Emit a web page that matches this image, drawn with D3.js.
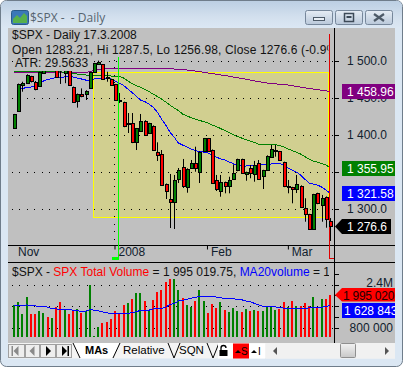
<!DOCTYPE html>
<html><head><meta charset="utf-8">
<script src="https://cdn.jsdelivr.net/npm/d3@7"></script>
<style>html,body{margin:0;padding:0;background:#fff}svg{display:block}text{font-family:"Liberation Sans",Arial,sans-serif;white-space:pre}</style>
</head><body><div id="chart"></div>
<script>
const openP=[1409.1,1432.8,1467.2,1470.3,1479.3,1471.2,1465.3,1484.2,1496,1490,1496,1496,1483.8,1495,1464.9,1445,1455.4,1455.4,1463.1,1484.7,1496,1495.5,1478.8,1475.3,1468.5,1447.7,1444.2,1413.9,1415.8,1389.6,1405.8,1419.3,1402.3,1412.2,1376.6,1373.9,1333.8,1313.5,1309.9,1340.1,1356.3,1330.1,1355,1361.7,1350.4,1377.4,1395.5,1379.7,1339.2,1323.4,1336.1,1331.5,1340.1,1351.8,1367.2,1346.9,1355,1347.7,1361.7,1343.6,1352.3,1370.7,1378.8,1378,1363.1,1330.7,1329.3,1326.6,1331.5,1300.9,1292.8,1273,1321.2,1304.5,1316.2,1283.21];
const highP=[1428.5,1469.5,1472,1482,1480,1473,1485.5,1493,1498,1500,1497,1498,1492,1497,1465.5,1456,1463,1460.5,1485.5,1497.5,1500.5,1496,1485.5,1476,1469,1456.8,1445,1429.7,1429.7,1409.5,1428.4,1420,1416.5,1413,1390.1,1379.7,1334.5,1347.3,1346,1355.4,1367.6,1355,1366.2,1384.2,1378,1396,1396,1380.5,1346,1346,1337,1343.6,1360.4,1368,1368,1350.5,1359.5,1365,1366.2,1353,1372.5,1386.5,1386.5,1378.5,1364,1339.2,1330,1346,1332,1314.5,1293.5,1320.5,1322,1319,1317,1287.5];
const lowP=[1408.5,1432,1458.5,1469.5,1471,1460.4,1465,1483.5,1488,1488,1477.5,1469,1470,1467.5,1444.5,1437,1451,1447.3,1462.5,1484,1495,1475,1472,1467,1446,1443.2,1410.5,1402.7,1389,1379.7,1405,1400.5,1402,1379,1364.9,1331.5,1313.5,1274.3,1273,1335.1,1328.4,1322,1354.5,1350.4,1335.1,1377,1377.8,1335,1324.3,1316.6,1321.2,1321.2,1339.5,1351,1347.5,1338.2,1341.5,1336.9,1340,1327,1352,1370,1370.7,1365.5,1329.5,1321.2,1307.7,1321.6,1302.5,1282.8,1272,1272.5,1306.5,1282.8,1274.7,1256.98];
const closeP=[1428,1468.9,1470.3,1481.1,1472,1462.2,1484.7,1491.9,1489,1497,1478,1490,1490,1468,1445,1455,1452.7,1459.9,1484.7,1496.9,1499,1475.7,1477,1467.6,1447,1447,1411.2,1415.8,1389.6,1409,1419.3,1401,1415.8,1379.7,1372,1332.4,1324.7,1309.9,1339.2,1352.7,1330.1,1354,1361.7,1355,1377.4,1395.5,1378.4,1335.5,1326.6,1336.1,1330.1,1339.2,1348.2,1367.2,1348.2,1349.6,1348.2,1359.5,1340.5,1352.3,1371.6,1381.1,1379.7,1366.2,1330.1,1331.5,1326.6,1333.4,1303.1,1292.8,1272.6,1319.9,1307.1,1314.5,1286.5,1276.6];
const ma200=[1484.5,1484.5,1484.5,1484.5,1484.5,1484.5,1484.5,1484.5,1484.5,1484.5,1484.5,1484.5,1484.5,1484.5,1484.5,1484.5,1484.5,1484.5,1485.8,1487.2,1488.5,1489.2,1489.9,1490.5,1490.5,1490.5,1490.5,1490.5,1490.5,1490.5,1490.5,1490.5,1490.5,1490.5,1490.5,1490.5,1490.5,1489.9,1489.2,1488.8,1488.5,1487.8,1487.2,1486.5,1485.8,1484.7,1483.8,1483,1482.2,1481.2,1480.4,1479.5,1478.4,1477.4,1476.4,1475.4,1474.3,1473.2,1472.3,1471.3,1470.3,1469.7,1469.2,1468.6,1468.1,1467.6,1466.6,1465.7,1464.7,1463.8,1462.8,1462.2,1461.3,1460.5,1459.7,1458.96];
const ma50=[1485.5,1485.5,1485.5,1485.5,1485.5,1485.5,1485.5,1485.5,1485.5,1485.5,1485.5,1485.3,1484.9,1484.5,1483.1,1482.4,1482,1481.1,1480.7,1480.4,1480.4,1480.4,1480,1479.7,1479.7,1479,1477,1473,1469.6,1466.9,1464.5,1461.5,1458.8,1455.4,1452,1448.6,1444.6,1440.5,1436.5,1433.1,1428.4,1425.7,1423.6,1421.6,1419.6,1418.2,1416.2,1413.5,1411.5,1408.8,1406.1,1403.4,1400.7,1398,1395.9,1393.9,1391.9,1389.9,1387.8,1387.2,1387.2,1387.2,1387.2,1385.8,1383.8,1381.1,1379,1377,1374.3,1370.9,1367.6,1364.8,1363.5,1361.5,1359.5,1355.95];
const ma20=[null,1462.2,1462.8,1464.2,1464.9,1466.2,1468.9,1473,1475,1476.4,1477.7,1478.1,1478.4,1478.6,1478.4,1477,1475.7,1474.3,1473,1475.7,1476.6,1477,1477,1475.7,1473,1470.3,1466.9,1462.2,1457.4,1452.7,1447.3,1445.3,1441.9,1437.8,1431.1,1421.6,1413.5,1404,1397.3,1389.2,1386.5,1383.8,1381.1,1379,1377.7,1377,1375.7,1373,1370.3,1367.6,1366.2,1363.5,1361.5,1358.8,1358.1,1358.1,1358.8,1359,1359.5,1359.5,1359.5,1360.8,1361.7,1361.7,1359.5,1355.4,1352.7,1350,1345.9,1340.5,1335.1,1333.8,1332.4,1329.7,1325.7,1321.58];
const volumeK=[1643,1753,1313,1936,1313,1313,1423,1350,1203,1166,1569,1753,1460,1313,1423,1496,1350,1423,2376,507,837,983,1020,1130,1423,1313,1643,1716,1863,2082,2082,1789,1460,1826,2119,2192,2485,2595,2595,2192,1899,1643,1569,1789,2192,1789,1350,1679,1533,1753,1460,1386,1533,1423,1386,1496,1423,1460,1423,1423,1569,1569,1460,1496,1753,1569,1789,1606,1606,1716,1606,1936,1569,1863,1863,1995];
const volUp=[1,1,1,1,0,0,1,1,0,1,0,0,1,0,0,1,0,1,1,1,1,0,0,0,0,0,0,1,0,1,1,0,1,0,0,0,0,0,1,1,0,1,1,0,1,1,0,0,0,1,0,1,1,1,0,1,0,1,0,1,1,1,1,0,0,1,0,1,0,0,0,1,0,1,0,0];
const volMA20K=[1631,1631,1631,1643,1631,1606,1594,1594,1557,1496,1496,1484,1484,1484,1447,1423,1411,1411,1472,1447,1423,1386,1362,1313,1313,1313,1337,1337,1350,1398,1435,1447,1447,1496,1508,1508,1557,1667,1692,1789,1814,1850,1887,1924,1960,1960,1960,1960,1936,1911,1887,1875,1875,1850,1838,1789,1765,1704,1643,1594,1569,1569,1569,1557,1521,1521,1521,1521,1521,1521,1533,1545,1545,1557,1582,1628.843];
const priceTicks=[1500,1450,1400,1350,1300];
const priceTickLabels=[1500,1450,1400,1300];
const volTicks=[2800000,2400000,2000000,1600000,1200000,800000];
const volTickLabels=[2400000,800000];
const volGrid=[2400000,1600000,800000];
const dateTickIdx=[0,23.85,45.8,65];
const dateLabels=["Nov","2008","Feb","Mar"];
const tabs=["MAs","Relative","SQN"];

const W=403,H=367;
const svg=d3.select("#chart").append("svg").attr("width",W).attr("height",H);
const defs=svg.append("defs");
const g=defs.append("linearGradient").attr("id","tb").attr("x2",0).attr("y2",1);
g.append("stop").attr("offset",0).attr("stop-color","#bccfe3");
g.append("stop").attr("offset",.6).attr("stop-color","#d3e0ee");
g.append("stop").attr("offset",1).attr("stop-color","#dbe7f3");
const g2=defs.append("linearGradient").attr("id","btn").attr("x2",0).attr("y2",1);
g2.append("stop").attr("offset",0).attr("stop-color","#e6edf5");
g2.append("stop").attr("offset",1).attr("stop-color","#b9c8da");
const g3=defs.append("linearGradient").attr("id","th").attr("x2",0).attr("y2",1);
g3.append("stop").attr("offset",0).attr("stop-color","#f2f2f2");
g3.append("stop").attr("offset",1).attr("stop-color","#c8c8c8");
defs.append("clipPath").attr("id","c1").append("rect").attr("x",8).attr("y",28).attr("width",320.5).attr("height",40);
defs.append("clipPath").attr("id","c2").append("rect").attr("x",8).attr("y",263).attr("width",321).attr("height",16);
defs.append("clipPath").attr("id","c3").append("rect").attr("x",335).attr("y",270).attr("width",60).attr("height",60);

// window frame
svg.append("rect").attr("x",.5).attr("y",.5).attr("width",W-1).attr("height",H-1).attr("rx",6)
  .attr("fill","#dbe7f3").attr("stroke","#6f7d8b");
svg.append("rect").attr("x",1).attr("y",1).attr("width",W-2).attr("height",27).attr("rx",5).attr("fill","url(#tb)");
// title icon
svg.append("rect").attr("x",11.5).attr("y",10.5).attr("width",17).attr("height",14).attr("rx",2).attr("fill","#3b78b8").attr("stroke","#2a5a8a");
svg.append("path").attr("d","M13 23L13 19L17 15L20 18L24 13L27 16L27 23Z").attr("fill","#58b04c");
svg.append("text").attr("x",30).attr("y",22).attr("font-size",12).style("font-family","'Open Sans',sans-serif").attr("fill","#56646f").text("$SPX -  - Daily");
// window buttons
[[305,"min"],[335,"max"],[365,"close"]].forEach(([x,k])=>{
  svg.append("rect").attr("x",x+.5).attr("y",10.5).attr("width",27).attr("height",14).attr("rx",2).attr("fill","url(#btn)").attr("stroke","#76879b");
  if(k==="min")svg.append("rect").attr("x",x+8.5).attr("y",17.5).attr("width",11).attr("height",3).attr("fill","#e8eef5").attr("stroke","#4d5a68");
  if(k==="max"){svg.append("rect").attr("x",x+9.5).attr("y",13.5).attr("width",9).attr("height",8).attr("fill","none").attr("stroke","#3d4a58").attr("stroke-width",1.5);
    svg.append("rect").attr("x",x+11.5).attr("y",16).attr("width",5).attr("height",2).attr("fill","#3d4a58");}
  if(k==="close"){svg.append("path").attr("d",`M${x+9} 14L${x+19} 21M${x+19} 14L${x+9} 21`).attr("stroke","#4d5a68").attr("stroke-width",2.2);}
});

// panes background
svg.append("rect").attr("x",8).attr("y",28).attr("width",387).attr("height",315).attr("fill","#c0c0c0");

const x=d3.scaleLinear().domain([0,75]).range([14,330]);
const y=d3.scaleLinear().domain([1500,1300]).range([61,209]);
const yV=d3.scaleLinear().domain([800000,2400000]).range([327.7,284.5]);
const volBase=470000;
const px=i=>Math.round(x(i));

// yellow study rectangle
svg.append("rect").attr("x",93.5).attr("y",72.5).attr("width",235).attr("height",145).attr("fill","#d1cf90").attr("stroke","#ffff00").attr("stroke-width",1).attr("shape-rendering","crispEdges");

// grid
const dots=svg.append("g").attr("stroke","#000").attr("stroke-dasharray","1 6.45").attr("shape-rendering","crispEdges");
priceTicks.forEach(t=>dots.append("line").attr("x1",12).attr("x2",334).attr("y1",Math.round(y(t))+.5).attr("y2",Math.round(y(t))+.5));
volGrid.forEach(t=>dots.append("line").attr("x1",12).attr("x2",334).attr("y1",Math.round(yV(t))+.5).attr("y2",Math.round(yV(t))+.5));
dots.append("line").attr("x1",114.5).attr("x2",114.5).attr("y1",30).attr("y2",245);

// moving averages
const ln=d3.line().defined(d=>d!=null).x((d,i)=>x(i)).y(d=>y(d));
[[ma200,"#800080"],[ma50,"#008000"],[ma20,"#0000ff"]].forEach(([d,c])=>
  svg.append("path").attr("d",ln(d)).attr("fill","none").attr("stroke",c).attr("stroke-width",1).attr("shape-rendering","crispEdges"));

// candles
const cg=svg.append("g").selectAll("g").data(openP.map((o,i)=>({i,o,h:highP[i],l:lowP[i],c:closeP[i]}))).join("g");
cg.append("line").attr("x1",d=>px(d.i)+.5).attr("x2",d=>px(d.i)+.5).attr("y1",d=>y(d.h)).attr("y2",d=>y(d.l)).attr("stroke","#000").attr("stroke-width",1);
cg.append("rect").attr("x",d=>px(d.i)-1).attr("width",3)
  .attr("y",d=>Math.round(y(Math.max(d.o,d.c)))+.5)
  .attr("height",d=>Math.max(1,Math.round(y(Math.min(d.o,d.c))-y(Math.max(d.o,d.c)))))
  .attr("fill",d=>d.c>=d.o?"#008000":"#ff0000").attr("stroke","#000").attr("stroke-width",1).attr("shape-rendering","crispEdges");

// text boxes hiding what lies beneath
svg.append("rect").attr("x",8).attr("y",28).attr("width",129).attr("height",16).attr("fill","#c0c0c0");
svg.append("rect").attr("x",8).attr("y",43).attr("width",321).attr("height",14).attr("fill","#c0c0c0");
svg.append("rect").attr("x",13).attr("y",57).attr("width",77).attr("height",14).attr("fill","#c0c0c0");
svg.append("g").attr("clip-path","url(#c1)").append("text").attr("x",12).attr("y",54).attr("font-size",12).attr("letter-spacing",.15).attr("fill","#111").text("Open 1283.21, Hi 1287.5, Lo 1256.98, Close 1276.6 (-0.9%)");
svg.append("text").attr("x",12).attr("y",39).attr("font-size",12).attr("fill","#111").text("$SPX - Daily 17.3.2008");
svg.append("text").attr("x",15).attr("y",67).attr("font-size",12).attr("fill","#111").text("ATR: 29.5633");

// volume bars
svg.append("g").selectAll("rect").data(volumeK).join("rect")
  .attr("x",(d,i)=>px(i)-1).attr("width",2)
  .attr("y",d=>yV(d*1000)).attr("height",d=>yV(volBase)-yV(d*1000))
  .attr("fill",(d,i)=>volUp[i]?"#008000":"#ff0000").attr("shape-rendering","crispEdges");
const lnV=d3.line().x((d,i)=>x(i)).y(d=>yV(d*1000));
svg.append("path").attr("d",lnV(volMA20K)).attr("fill","none").attr("stroke","#0000ff").attr("stroke-width",1).attr("shape-rendering","crispEdges");
svg.append("rect").attr("x",8).attr("y",263).attr("width",326).attr("height",16).attr("fill","#c0c0c0");
const vt=svg.append("text").attr("clip-path","url(#c2)").attr("x",12).attr("y",276).attr("font-size",12).attr("fill","#111");
vt.append("tspan").text("$SPX - ");
vt.append("tspan").attr("fill","#ff0000").text("SPX Total Volume");
vt.append("tspan").text(" = 1 995 019.75, ");
vt.append("tspan").attr("fill","#0000ff").text("MA20volume");
vt.append("tspan").text(" = 1 628 843");

// separators and cursor lines
svg.append("line").attr("x1",8).attr("x2",395).attr("y1",245.5).attr("y2",245.5).attr("stroke","#000");
svg.append("line").attr("x1",8).attr("x2",395).attr("y1",262.5).attr("y2",262.5).attr("stroke","#000");
svg.append("line").attr("x1",118.5).attr("x2",118.5).attr("y1",57).attr("y2",259).attr("stroke","#00ff00");
svg.append("rect").attr("x",112).attr("y",257).attr("width",7).attr("height",3).attr("fill","#00ff00");
svg.append("line").attr("x1",329.5).attr("x2",329.5).attr("y1",34).attr("y2",259).attr("stroke","#e00000");
svg.append("line").attr("x1",329).attr("x2",335).attr("y1",258.5).attr("y2",258.5).attr("stroke","#e00000");
svg.selectAll(".lastwick").data([75]).join("line").attr("x1",i=>px(i)+.5).attr("x2",i=>px(i)+.5).attr("y1",i=>y(highP[i])).attr("y2",i=>y(lowP[i])).attr("stroke","#000");
svg.append("rect").attr("x",px(75)-1).attr("y",Math.round(y(openP[75]))+.5).attr("width",3).attr("height",Math.round(y(closeP[75])-y(openP[75]))).attr("fill","#ff0000").attr("stroke","#000").attr("shape-rendering","crispEdges");

// axes
const locale=d3.formatLocale({decimal:".",thousands:" ",grouping:[3],currency:["",""]});
const f1=locale.format(",.1f"),f0=locale.format(",.0f"),f2=locale.format(",.2f");
const axP=d3.axisRight(y).tickValues(priceTicks).tickSize(4).tickFormat(d=>priceTickLabels.includes(d)?f1(d):"");
const gP=svg.append("g").attr("transform","translate(334.5,0)").call(axP);
gP.select(".domain").remove();
gP.selectAll("line").attr("stroke","#000").attr("shape-rendering","crispEdges");
gP.selectAll("text").attr("x",12.5).attr("font-size",12).attr("fill","#10202e").style("font-family","'Liberation Sans',Arial,sans-serif");
const axV=d3.axisRight(yV).tickValues(volTicks).tickSize(4).tickFormat(d=>volTickLabels.includes(d)?(d>=1e6?(d/1e6).toFixed(1)+"M":f0(d)):"");
const gV=svg.append("g").attr("transform","translate(334.5,0)").call(axV);
gV.select(".domain").remove();
gV.selectAll("line").attr("stroke","#000").attr("shape-rendering","crispEdges");
gV.selectAll("text").attr("x",58.5).attr("y",d=>d===2400000?-2:0).attr("text-anchor","end").attr("font-size",12).attr("fill","#10202e").style("font-family","'Liberation Sans',Arial,sans-serif");
svg.append("line").attr("x1",334.5).attr("x2",334.5).attr("y1",28).attr("y2",343).attr("stroke","#000");
const axD=d3.axisBottom(x).tickValues(dateTickIdx).tickSize(4).tickFormat((d,i)=>dateLabels[i]);
const gD=svg.append("g").attr("transform","translate(0,245.5)").call(axD);
gD.select(".domain").remove();
gD.selectAll("line").attr("stroke",(d,i)=>i===0?"none":"#000");
gD.selectAll("text").attr("x",3.5).attr("y",2).attr("dy","0.71em").attr("text-anchor","start").attr("font-size",12).attr("fill","#10202e").style("font-family","'Liberation Sans',Arial,sans-serif");

// last-value labels
[[ma200[75],"#800080",.1],[ma50[75],"#008000",.8],[ma20[75],"#0000ff",.5]].forEach(([v,c,o])=>{
  const top=Math.round(y(v)+o-7.5);
  svg.append("rect").attr("x",342).attr("y",top).attr("width",53).attr("height",15).attr("fill",c);
  svg.append("text").attr("x",347).attr("y",top+12).attr("font-size",12).attr("fill","#fff").text(f2(v));
});
const cY=Math.round(y(closeP[75]))+.5;
svg.append("path").attr("d",`M335 ${cY}L342 ${cY-7.5}L391 ${cY-7.5}L391 ${cY+7.5}L342 ${cY+7.5}Z`).attr("fill","#000");
svg.append("text").attr("x",347).attr("y",cY+4.5).attr("font-size",12).attr("fill","#fff").text(f1(closeP[75]));
const vY=295;
svg.append("path").attr("d",`M335 ${vY}L342 288L395 288L395 301.5L342 301.5Z`).attr("fill","#ff0000");
svg.append("text").attr("clip-path","url(#c3)").attr("x",343).attr("y",vY+4.5).attr("font-size",12).attr("letter-spacing",-.25).attr("fill","#200").text(f0(volumeK[75]*1000+20));
svg.append("rect").attr("x",342).attr("y",303).attr("width",53).attr("height",15).attr("fill","#0000ff");
svg.append("text").attr("clip-path","url(#c3)").attr("x",344).attr("y",315).attr("font-size",12).attr("fill","#fff").text(f0(volMA20K[75]*1000));

// bottom strip
svg.append("rect").attr("x",8).attr("y",343).attr("width",387).attr("height",15.5).attr("fill","#f4f4f4");
const nav=[[8,25,"first","#8a8a8a"],[25,40,"prev","#8a8a8a"],[40,56,"next","#000"],[56,72,"last","#000"]];
nav.forEach(([a,b,k,c])=>{
  svg.append("rect").attr("x",a+.5).attr("y",344.5).attr("width",b-a-1).attr("height",13).attr("fill","#eeeeee").attr("stroke","#a0a0a0");
  const m=(a+b)/2;
  const fwd=k==="next"||k==="last";
  const d=fwd?`M${m-2} 346L${m+3} 351L${m-2} 356Z`:`M${m+2} 346L${m-3} 351L${m+2} 356Z`;
  svg.append("path").attr("d",d).attr("fill",c);
  if(k==="first")svg.append("rect").attr("x",m-5).attr("y",346).attr("width",1.5).attr("height",10).attr("fill",c);
  if(k==="last")svg.append("rect").attr("x",m+3.5).attr("y",346).attr("width",1.5).attr("height",10).attr("fill",c);
});
svg.append("path").attr("d","M72 343L80 358.5L112 358.5L120 343Z").attr("fill","#fff");
svg.append("path").attr("d","M73 343L80 358M120 343L113 358M168 343L174 358M174 358L180 343M207 343L213 358M213 358L219 343").attr("stroke","#000").attr("fill","none");
svg.append("text").attr("x",85).attr("y",354).attr("font-size",11).attr("font-weight","bold").attr("fill","#000").text(tabs[0]);
svg.append("text").attr("x",123).attr("y",354).attr("font-size",11.5).attr("fill","#000").text(tabs[1]);
svg.append("text").attr("x",179).attr("y",354).attr("font-size",11.5).attr("fill","#000").text(tabs[2]);
// lock, toggles, scrollbar
svg.append("rect").attr("x",218).attr("y",343).attr("width",15).attr("height",15.5).attr("fill","#fff");
svg.append("rect").attr("x",219.5).attr("y",350).attr("width",8).attr("height",6).attr("fill","#000");
svg.append("path").attr("d","M221 350v-2a2.5 2.5 0 0 1 5 0").attr("fill","none").attr("stroke","#000").attr("stroke-width",1.3);
svg.append("rect").attr("x",233).attr("y",343.5).attr("width",16).attr("height",15).attr("fill","#ff0000");
svg.append("path").attr("d","M235 353L238 350L241 353Z").attr("fill","#000");
svg.append("text").attr("x",241).attr("y",355).attr("font-size",10).attr("fill","#000").text("S");
svg.append("rect").attr("x",249).attr("y",343.5).attr("width",16).attr("height",15).attr("fill","#fff");
svg.append("path").attr("d","M251 353L254 350L257 353Z").attr("fill","#000");
svg.append("text").attr("x",258).attr("y",355).attr("font-size",10).attr("fill","#000").text("I");
svg.append("rect").attr("x",266).attr("y",343).attr("width",129).attr("height",15.5).attr("fill","#f1f1f1");
svg.append("path").attr("d","M273 351L277 347L277 355Z").attr("fill","#555");
svg.append("path").attr("d","M389 351L385 347L385 355Z").attr("fill","#555");
svg.append("rect").attr("x",340.5).attr("y",343.5).attr("width",15).attr("height",14).attr("rx",1).attr("fill","url(#th)").attr("stroke","#8f8f8f");
</script></body></html>
